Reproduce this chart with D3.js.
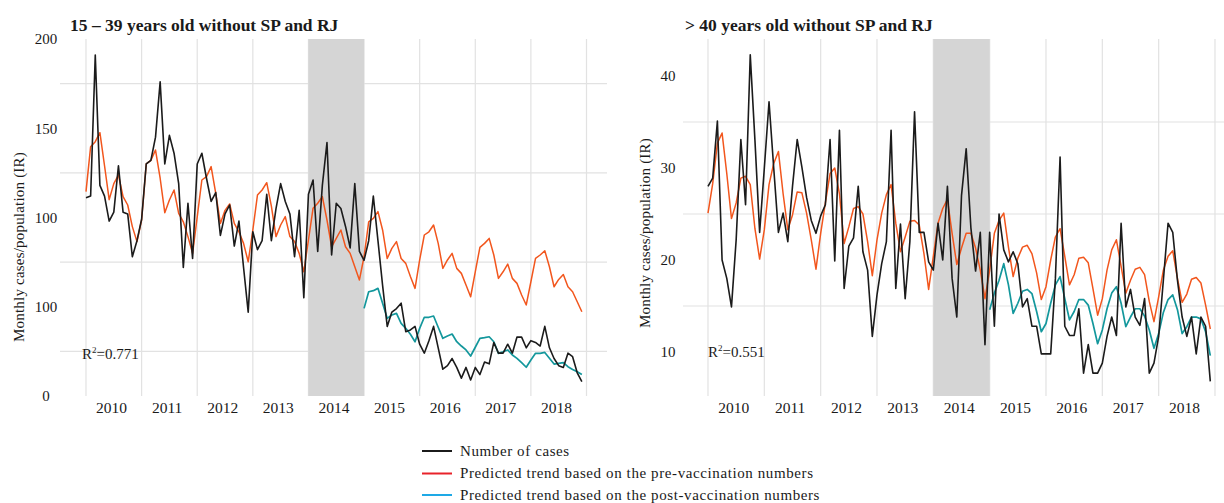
<!DOCTYPE html>
<html>
<head>
<meta charset="utf-8">
<script src="https://cdn.jsdelivr.net/npm/d3@7"></script>
<style>
  html, body { margin: 0; padding: 0; background: #fff; }
  svg { display: block; }
  text { font-family: "Liberation Serif", "DejaVu Serif", serif; fill: #1a1a1a; }
</style>
</head>
<body>
<svg id="chart" width="1224" height="503"></svg>
<script>
// Monthly series, January 2010 to December 2018 (108 months)
const years = [2010, 2011, 2012, 2013, 2014, 2015, 2016, 2017, 2018];

// 15-39 years old
const youngCases = [111,112,191,118,112,98,103,129,103,102,
  78,87,99,130,132,145,176,130,146,136,
  119,72,108,77,130,136,122,109,114,90,
  102,107,84,98,72,47,92,82,87,113,
  87,105,119,109,102,78,104,55,113,121,
  81,118,142,79,108,105,95,83,119,81,
  76,87,112,87,62,39,47,49,52,36,
  37,39,29,24,31,39,27,15,17,21,
  16,10,16,9,16,12,19,18,30,24,
  24,29,24,33,33,27,31,30,28,39,
  27,21,17,16,24,22,13,8];
const youngPre = [114.5,139.7,142.5,147.5,129,110,119,123.8,111.7,107,
  94.9,86.5,98.6,130,132,137.8,122,102.7,109.8,115.4,
  102.3,97.6,89.3,79.9,100.4,121,122.9,128.5,113.5,96.7,
  104,107.6,96.7,92,85.5,75.2,93,112.6,115.4,119.5,
  106.4,89.3,95.8,100.5,89.3,86.5,79.9,69.6,87.4,105.2,
  108,111.7,98.6,83.6,88.3,93,83.6,79.9,72.4,65,
  78,97.6,99.5,103.3,93,77,82.7,86.5,77,74.3,
  66.9,60.3,76.2,90.2,92,95.8,85.5,71.5,76.2,79.9,
  71.5,68.7,62.2,55.6,69.6,83.3,85.5,88.3,79,65.9,
  69.6,73.9,65.9,63.1,56.6,51,64,77.1,79,81.4,
  72.4,61.2,65.3,68.1,61.2,58.4,52.8,47.2];
// post-vaccination trend starts January 2015 (month 60)
const youngPost = [49.1,58.4,59,60.3,51.9,43.5,45.4,46.3,40.7,37.9,
  34.6,30.4,37.9,44.1,44.1,44.8,38.5,32.3,33.6,34.7,
  30.4,28,25.8,22.4,27.3,32.3,32.7,33.2,30.4,23.9,
  24.8,25.8,23,21.1,18.7,16.1,20.2,23.9,23.9,24.4,
  21.1,17.9,18.3,18.7,16.4,14.9,13.6,12.1];

// over 40 years old
const olderCases = [28,28.9,35.1,20,18,14.9,22.2,33.1,26,42.3,
  33,23,30,37.2,30,23,25.1,22,28,33.1,
  30.1,26.8,24.3,22.9,24.8,26,33.1,19.9,34.1,16.9,
  21.5,22.4,28,20.9,18.9,11.7,16.2,19.6,22,34.1,
  16.9,23.9,15.8,22,36.1,23,23,19.8,18.9,24,
  20,28,18,13.8,27,32.1,23.5,18.8,23,10.8,
  23,12.8,25,21.1,19.8,20.9,19.6,14.9,15.8,12.8,
  12.8,9.8,9.8,9.8,18,31.2,12.8,11.8,11.8,14.7,
  7.7,10.8,7.7,7.7,8.8,11.7,13.8,11.8,24,14.9,
  16.8,13.8,12.9,15.8,7.7,8.8,11.7,17.8,24,23,
  17.8,13.8,11.7,13.8,9.8,13.8,12.8,6.8];
const olderPre = [25.1,28.3,32.7,33.8,29.4,24.5,26.2,28.9,29.1,28.2,
  23.4,20.1,23.3,28.2,30.5,31.8,27.2,23.3,24.9,27.4,
  27.3,25.1,22.2,19,22.9,26.2,29.4,30,27.2,21.8,
  23.6,25.6,25.8,25,22,18.3,22.2,25.1,27.1,28.2,
  24,20.9,22.5,24.2,24.3,23.8,20.7,16.8,20.4,24,
  25.6,26.6,22.9,19.5,21.3,22.9,22.9,21.3,18.9,15.8,
  18.9,22.9,24.3,25.1,21.4,18.2,20.2,21.4,21.6,20.7,
  18.6,15.7,17.1,20,22.5,23.4,20.4,17.3,18.4,20.2,
  20.3,19.7,16.9,14,15.8,18.9,21.1,22.2,19.3,16.4,
  17.8,19,19.2,18.4,15.5,13.3,16,18.9,20.4,21,
  18,15.4,16.3,17.9,18.1,17.5,15.1,12.5];
const olderPost = [14.6,16.4,17.8,19.6,17.3,14.2,15.3,16.6,16.8,16.35,
  14.4,12.2,13.1,15.3,17.3,18.2,15.8,13.5,14.4,15.7,
  15.7,15.1,13.1,10.9,12.4,14.7,16.4,17.1,15.3,12.75,
  13.8,14.7,14.7,13.9,12.4,10.4,12,14.3,15.7,16.2,
  14.6,12,12.75,13.8,13.8,13.6,12.2,9.6];

const postStart = 60;           // January 2015
const shadeMonths = [48, 60];   // 2014, transition year

// y tick labels as printed on each axis
const youngTickValues = [0, 50, 100, 150, 200];
const youngTickLabels = ["0", "100", "100", "150", "200"];
const youngGridValues = [25, 75, 125, 175];
const olderTickValues = [10, 20, 30, 40];
const olderTickLabels = ["10", "20", "30", "40"];
const olderGridValues = [15, 25, 35];

const legendLabels = ["Number of cases",
  "Predicted trend based on the pre-vaccination numbers",
  "Predicted trend based on the post-vaccination numbers"];

const colors = { cases: "#1b1b1b", pre: "#f2561d", post: "#13979c" };
const legendColors = ["#1b1b1b", "#e8232a", "#1ea9e6"];

const svg = d3.select("#chart");

function drawPanel(cfg) {
  const g = svg.append("g");
  const x = d3.scaleLinear().domain([0, 108]).range(cfg.xRange);
  const y = d3.scaleLinear().domain(cfg.yDomain).range(cfg.yRange);
  const top = 39, bottom = 396;

  // horizontal grid
  g.selectAll(".hg").data(cfg.gridValues).join("line")
    .attr("x1", cfg.gridX[0]).attr("x2", cfg.gridX[1])
    .attr("y1", d => y(d)).attr("y2", d => y(d))
    .attr("stroke", "#e2e2e2").attr("stroke-width", 1.2);

  // vertical grid at each January
  g.selectAll(".vg").data(d3.range(0, 109, 12)).join("line")
    .attr("x1", d => x(d)).attr("x2", d => x(d))
    .attr("y1", top).attr("y2", bottom)
    .attr("stroke", "#e2e2e2").attr("stroke-width", 1.2);

  // shaded transition year
  g.append("rect")
    .attr("x", x(shadeMonths[0])).attr("y", top)
    .attr("width", x(shadeMonths[1]) - x(shadeMonths[0]))
    .attr("height", bottom - top)
    .attr("fill", "#d5d5d5");

  const line = d3.line().x(d => x(d[0])).y(d => y(d[1]));

  g.append("path")
    .datum(cfg.pre.map((v, i) => [i, v]))
    .attr("d", line).attr("fill", "none")
    .attr("stroke", colors.pre).attr("stroke-width", 1.5)
    .attr("stroke-linejoin", "round");

  g.append("path")
    .datum(cfg.post.map((v, i) => [i + postStart, v]))
    .attr("d", line).attr("fill", "none")
    .attr("stroke", colors.post).attr("stroke-width", 1.7)
    .attr("stroke-linejoin", "round");

  g.append("path")
    .datum(cfg.cases.map((v, i) => [i, v]))
    .attr("d", line).attr("fill", "none")
    .attr("stroke", colors.cases).attr("stroke-width", 1.6)
    .attr("stroke-linejoin", "round");

  // y tick labels
  g.selectAll(".yl").data(cfg.tickValues).join("text")
    .attr("x", cfg.tickX).attr("y", d => y(d))
    .attr("dy", "0.35em").attr("text-anchor", "middle")
    .attr("font-size", 15)
    .text((d, i) => cfg.tickLabels[i]);

  // year labels
  g.selectAll(".xl").data(years).join("text")
    .attr("x", (d, i) => x(i * 12 + 5.5)).attr("y", 413)
    .attr("text-anchor", "middle").attr("font-size", 15.5)
    .text(d => d);

  // axis title
  g.append("text")
    .attr("transform", `translate(${cfg.titleY[0]},${cfg.titleY[1]}) rotate(-90)`)
    .attr("text-anchor", "middle").attr("dy", "0.35em")
    .attr("font-size", 15).attr("letter-spacing", 0.2)
    .text("Monthly cases/population (IR)");

  // panel title
  g.append("text")
    .attr("x", cfg.titlePos[0]).attr("y", cfg.titlePos[1])
    .attr("font-size", 17.5).attr("font-weight", "bold")
    .text(cfg.title);

  // fit statistic
  const r = g.append("text")
    .attr("x", cfg.rPos[0]).attr("y", cfg.rPos[1])
    .attr("font-size", 15);
  r.append("tspan").text("R");
  r.append("tspan").attr("font-size", 9).attr("dy", -6).text("2");
  r.append("tspan").attr("dy", 6).text("=" + cfg.r2);
}

drawPanel({
  title: "15 \u2013 39 years old without SP and RJ",
  titlePos: [70, 31],
  cases: youngCases, pre: youngPre, post: youngPost,
  xRange: [86, 586.5],
  yDomain: [0, 200], yRange: [396, 39],
  gridValues: youngGridValues, gridX: [60, 607],
  tickValues: youngTickValues, tickLabels: youngTickLabels, tickX: 46,
  titleY: [19, 247],
  rPos: [82, 359], r2: "0.771"
});

drawPanel({
  title: "> 40 years old without SP and RJ",
  titlePos: [685, 31],
  cases: olderCases, pre: olderPre, post: olderPost,
  xRange: [708, 1215],
  yDomain: [10, 40], yRange: [352, 76],
  gridValues: olderGridValues, gridX: [683, 1224],
  tickValues: olderTickValues, tickLabels: olderTickLabels, tickX: 668,
  titleY: [645, 233],
  rPos: [708, 357], r2: "0.551"
});

// legend
const legend = svg.append("g");
const rowY = [451, 473.5, 495];
legendLabels.forEach((label, i) => {
  legend.append("line")
    .attr("x1", 422).attr("x2", 452)
    .attr("y1", rowY[i]).attr("y2", rowY[i])
    .attr("stroke", legendColors[i]).attr("stroke-width", 2);
  legend.append("text")
    .attr("x", 460).attr("y", rowY[i]).attr("dy", "0.32em")
    .attr("font-size", 15).attr("letter-spacing", 0.6)
    .text(label);
});
</script>
</body>
</html>
